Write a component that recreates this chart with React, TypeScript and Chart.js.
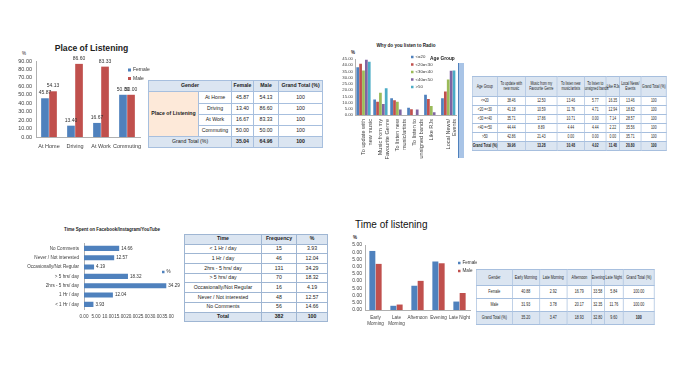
import React, { useEffect, useRef } from 'react';
import { Chart, registerables } from 'chart.js';

Chart.register(...registerables);

const FONT = '"Liberation Sans", Arial, sans-serif';
Chart.defaults.font.family = FONT;
Chart.defaults.color = '#404040';

const BLUE = '#4f81bd';
const RED = '#c0504d';
const GREEN = '#9bbb59';
const PURPLE = '#8064a2';
const CYAN = '#4bacc6';
const HEAD = '#dbe5f1';
const PEACH = '#fde9d9';

// ---------- Place of Listening ----------
const placeCategories = ['At Home', 'Driving', 'At Work', 'Commuting'];
const placeFemale = [45.87, 13.4, 16.67, 50.0];
const placeMale = [54.13, 86.6, 83.33, 50.0];
const placeGrandTotal = [35.04, 64.96, 100];

// ---------- Why do you listen to Radio ----------
const radioCategories = [
  ['To update with', 'new music'],
  ['Music from my', 'Favourite Genre'],
  ['To listen new', 'music/artists'],
  ['To listen to', 'unsigned bands'],
  ['Like RJs'],
  ['Local News/', 'Events'],
];
const radioHeaders = [
  'To update with\nnew music',
  'Music from my\nFavourite Genre',
  'To listen new\nmusic/artists',
  'To listen to\nunsigned bands',
  'Like RJs',
  'Local News/\nEvents',
];
const ageGroups = ['<=20', '<20=<30', '<30=<40', '<40=<50', '>50'];
const ageGroupRowLabels = ['<=20', '<20 =<30', '<30 =<40', '<40 =<50', '>50'];
const radioLe20 = [38.46, 12.5, 13.46, 5.77, 16.35, 13.46];
const radio20to30 = [41.18, 10.59, 11.76, 4.71, 12.94, 18.82];
const radio30to40 = [35.71, 17.86, 10.71, 0.0, 7.14, 28.57];
const radio40to50 = [44.44, 8.89, 4.44, 4.44, 2.22, 35.56];
const radioGt50 = [42.86, 21.43, 0.0, 0.0, 0.0, 35.71];
const radioGrandTotal = [39.96, 13.28, 10.48, 4.02, 11.48, 20.8];
const radioColors = [BLUE, RED, GREEN, PURPLE, CYAN];

// ---------- Time Spent on Facebook/Instagram/YouTube ----------
const timeLabels = [
  '< 1 Hr / day',
  '1 Hr / day',
  '2hrs - 5 hrs/ day',
  '> 5 hrs/ day',
  'Occasionally/Not Regular',
  'Never / Not interested',
  'No Comments',
];
const timeFrequency = [15, 46, 131, 70, 16, 48, 56];
const timePercent = [3.93, 12.04, 34.29, 18.32, 4.19, 12.57, 14.66];

// ---------- Time of listening ----------
const slotLabels = ['Early Morning', 'Late Morning', 'Afternoon', 'Evening', 'Late Night'];
const slotAxisLabels = [['Early', 'Morning'], ['Late', 'Morning'], ['Afternoon'], ['Evening'], ['Late Night']];
const slotFemale = [40.88, 2.92, 16.79, 33.58, 5.84];
const slotMale = [31.93, 3.78, 20.17, 32.35, 11.76];
const slotGrandTotal = [35.2, 3.47, 18.93, 32.8, 9.6];

const fmt = (v: number) => v.toFixed(2);

// ---------- plugins ----------
const valueLabels = {
  id: 'valueLabels',
  afterDatasetsDraw(chart: any, _a: any, opts: any) {
    if (!opts || !opts.display) return;
    const ctx = chart.ctx;
    ctx.save();
    ctx.font = `${opts.size}px ${FONT}`;
    ctx.fillStyle = opts.color || '#333';
    chart.data.datasets.forEach((ds: any, di: number) => {
      const meta = chart.getDatasetMeta(di);
      meta.data.forEach((el: any, i: number) => {
        const txt = fmt(ds.data[i]);
        if (opts.horizontal) {
          ctx.textAlign = 'left';
          ctx.textBaseline = 'middle';
          ctx.fillText(txt, el.x + opts.offset, el.y);
        } else {
          ctx.textAlign = 'center';
          ctx.textBaseline = 'bottom';
          ctx.fillText(txt, el.x, el.y - opts.offset);
        }
      });
    });
    ctx.restore();
  },
};

const miniLegend = {
  id: 'miniLegend',
  afterDraw(chart: any, _a: any, opts: any) {
    if (!opts || !opts.display) return;
    const ctx = chart.ctx;
    ctx.save();
    ctx.font = `${opts.size}px ${FONT}`;
    ctx.textBaseline = 'middle';
    ctx.textAlign = 'left';
    chart.data.datasets.forEach((ds: any, i: number) => {
      const y = opts.y + i * opts.dy;
      ctx.fillStyle = ds.backgroundColor;
      ctx.fillRect(opts.x, y - opts.box / 2, opts.box, opts.box);
      ctx.fillStyle = '#333';
      ctx.fillText(ds.label, opts.x + opts.box + opts.gap, y);
    });
    ctx.restore();
  },
};

function ChartBox({ left, top, width, height, config }: any) {
  const ref = useRef<HTMLCanvasElement>(null);
  useEffect(() => {
    const chart = new Chart(ref.current as HTMLCanvasElement, config);
    return () => chart.destroy();
  }, []);
  return (
    <canvas
      ref={ref}
      width={width}
      height={height}
      style={{ position: 'absolute', left, top, width, height }}
    />
  );
}

const axisBorder = { display: true, color: '#b0b0b0', width: 1 };
const noGrid = { display: false, drawTicks: false, tickLength: 0 };

function yLinear(max: number, step: number, size: number, width: number, pad: number) {
  return {
    min: 0,
    max,
    grid: noGrid,
    border: axisBorder,
    ticks: {
      stepSize: step,
      autoSkip: false,
      font: { size },
      padding: pad,
      callback: (v: any) => Number(v).toFixed(2),
    },
    afterFit: (s: any) => {
      s.width = width;
    },
  };
}

// Chart 1
const placeConfig: any = {
  type: 'bar',
  data: {
    labels: placeCategories,
    datasets: [
      { label: 'Female', data: placeFemale, backgroundColor: BLUE, categoryPercentage: 0.62, barPercentage: 0.95 },
      { label: 'Male', data: placeMale, backgroundColor: RED, categoryPercentage: 0.62, barPercentage: 0.95 },
    ],
  },
  options: {
    responsive: false,
    animation: false,
    layout: { padding: { top: 9, right: 10, left: 0, bottom: 0 } },
    scales: {
      x: {
        grid: noGrid,
        border: axisBorder,
        ticks: { font: { size: 5.5 }, padding: 6, autoSkip: false, maxRotation: 0 },
        afterFit: (s: any) => {
          s.height = 19;
        },
      },
      y: yLinear(90, 10, 5.5, 36, 4),
    },
    plugins: {
      legend: { display: false },
      tooltip: { enabled: false },
      valueLabels: { display: true, size: 5, offset: 3 },
      miniLegend: { display: true, x: 128, y: 18, dy: 8.5, box: 3, gap: 2, size: 5 },
    },
  },
  plugins: [valueLabels, miniLegend],
};

// Chart 2
const radioSeries = [radioLe20, radio20to30, radio30to40, radio40to50, radioGt50];
const radioConfig: any = {
  type: 'bar',
  data: {
    labels: radioCategories,
    datasets: ageGroups.map((g, i) => ({
      label: g,
      data: radioSeries[i],
      backgroundColor: radioColors[i],
      categoryPercentage: 0.85,
      barPercentage: 0.95,
    })),
  },
  options: {
    responsive: false,
    animation: false,
    layout: { padding: { top: 9, right: 4, left: 0, bottom: 0 } },
    scales: {
      x: {
        grid: noGrid,
        border: axisBorder,
        ticks: { font: { size: 5.6 }, padding: 4, autoSkip: false, minRotation: 90, maxRotation: 90 },
        afterFit: (s: any) => {
          s.height = 62;
        },
      },
      y: yLinear(45, 5, 4.3, 19, 2),
    },
    plugins: {
      legend: { display: false },
      tooltip: { enabled: false },
      miniLegend: { display: true, x: 75, y: 7, dy: 7.5, box: 2.5, gap: 2, size: 4.3 },
    },
  },
  plugins: [miniLegend],
};

// Chart 3
const timeConfig: any = {
  type: 'bar',
  data: {
    labels: timeLabels,
    datasets: [
      { label: '%', data: timePercent, backgroundColor: BLUE, categoryPercentage: 1, barPercentage: 0.55 },
    ],
  },
  options: {
    indexAxis: 'y',
    responsive: false,
    animation: false,
    layout: { padding: { top: 3, right: 22, left: 0, bottom: 0 } },
    scales: {
      y: {
        reverse: true,
        grid: noGrid,
        border: axisBorder,
        ticks: { font: { size: 4.6 }, padding: 5, autoSkip: false },
        afterFit: (s: any) => {
          s.width = 84;
        },
      },
      x: {
        min: 0,
        max: 35,
        grid: noGrid,
        border: { display: false },
        ticks: {
          stepSize: 5,
          autoSkip: false,
          font: { size: 4.6 },
          padding: 5,
          maxRotation: 0,
          callback: (v: any) => Number(v).toFixed(2),
        },
        afterFit: (s: any) => {
          s.height = 15;
        },
      },
    },
    plugins: {
      legend: { display: false },
      tooltip: { enabled: false },
      valueLabels: { display: true, size: 4.6, offset: 2, horizontal: true },
      miniLegend: { display: true, x: 162, y: 36, dy: 8, box: 2.5, gap: 2, size: 4.6 },
    },
  },
  plugins: [valueLabels, miniLegend],
};

// Chart 4
const slotConfig: any = {
  type: 'bar',
  data: {
    labels: slotAxisLabels,
    datasets: [
      { label: 'Female', data: slotFemale, backgroundColor: BLUE, categoryPercentage: 0.6, barPercentage: 0.95 },
      { label: 'Male', data: slotMale, backgroundColor: RED, categoryPercentage: 0.6, barPercentage: 0.95 },
    ],
  },
  options: {
    responsive: false,
    animation: false,
    layout: { padding: { top: 9, right: 7, left: 0, bottom: 0 } },
    scales: {
      x: {
        grid: noGrid,
        border: axisBorder,
        ticks: { font: { size: 4.6 }, padding: 5, autoSkip: false, maxRotation: 0 },
        afterFit: (s: any) => {
          s.height = 26;
        },
      },
      y: yLinear(45, 5, 5, 13, 3),
    },
    plugins: {
      legend: { display: false },
      tooltip: { enabled: false },
      miniLegend: { display: true, x: 106, y: 27, dy: 8, box: 2.5, gap: 2, size: 4.6 },
    },
  },
  plugins: [miniLegend],
};

// ---------- html helpers ----------
function Label({ x, y, text, size, bold, family, anchor = 'middle', color = '#222' }: any) {
  return (
    <div
      style={{
        position: 'absolute',
        left: x,
        top: y,
        transform: anchor === 'middle' ? 'translate(-50%, -50%)' : 'translate(0, -50%)',
        fontSize: size,
        fontWeight: bold ? 700 : 400,
        fontFamily: family || FONT,
        whiteSpace: 'nowrap',
        lineHeight: 1,
        color,
      }}
    >
      {text}
    </div>
  );
}

type Cell = { t: string; cs?: number; rs?: number; bold?: boolean; bg?: string };

function Table({ left, top, widths, heights, rows, size, border, outer, sx = 1 }: any) {
  const w2 = widths.map((w: number) => w / sx);
  const total = w2.reduce((a: number, b: number) => a + b, 0);
  return (
    <table
      style={{
        position: 'absolute',
        left,
        top,
        width: total,
        borderCollapse: 'collapse',
        tableLayout: 'fixed',
        fontFamily: FONT,
        fontSize: size,
        color: '#222',
        border: `1px solid ${outer}`,
        background: '#fff',
        transform: `scaleX(${sx})`,
        transformOrigin: 'left top',
      }}
    >
      <colgroup>
        {w2.map((w: number, i: number) => (
          <col key={i} style={{ width: w }} />
        ))}
      </colgroup>
      <tbody>
        {rows.map((r: Cell[], ri: number) => (
          <tr key={ri} style={{ height: heights[ri] }}>
            {r.map((c: Cell, ci: number) => (
              <td
                key={ci}
                colSpan={c.cs}
                rowSpan={c.rs}
                style={{
                  border: `1px solid ${border}`,
                  padding: 0,
                  textAlign: 'center',
                  verticalAlign: 'middle',
                  lineHeight: 1.1,
                  fontWeight: c.bold ? 700 : 400,
                  background: c.bg,
                  whiteSpace: 'pre',
                  overflow: 'visible',
                }}
              >
                {c.t}
              </td>
            ))}
          </tr>
        ))}
      </tbody>
    </table>
  );
}

// table rows
const placeRows: Cell[][] = [
  [
    { t: 'Gender', cs: 2, bold: true, bg: HEAD },
    { t: 'Female', bold: true, bg: HEAD },
    { t: 'Male', bold: true, bg: HEAD },
    { t: 'Grand Total (%)', bold: true, bg: HEAD },
  ],
  ...placeCategories.map((c, i) => [
    ...(i === 0 ? [{ t: 'Place of Listening', rs: placeCategories.length, bold: true, bg: PEACH }] : []),
    { t: c },
    { t: fmt(placeFemale[i]) },
    { t: fmt(placeMale[i]) },
    { t: '100' },
  ]),
  [
    { t: 'Grand Total (%)', cs: 2, bg: HEAD },
    { t: fmt(placeGrandTotal[0]), bold: true, bg: HEAD },
    { t: fmt(placeGrandTotal[1]), bold: true, bg: HEAD },
    { t: String(placeGrandTotal[2]), bold: true, bg: HEAD },
  ],
];

const radioRows: Cell[][] = [
  [{ t: 'Age Group', bg: HEAD }, ...radioHeaders.map((h) => ({ t: h, bg: HEAD })), { t: 'Grand Total (%)', bg: HEAD }],
  ...ageGroupRowLabels.map((g, i) => [{ t: g }, ...radioSeries[i].map((v) => ({ t: fmt(v) })), { t: '100' }]),
  [
    { t: 'Grand Total (%)', bold: true, bg: HEAD },
    ...radioGrandTotal.map((v) => ({ t: fmt(v), bold: true, bg: HEAD })),
    { t: '100', bold: true, bg: HEAD },
  ],
];

const timeRows: Cell[][] = [
  [
    { t: 'Time', bold: true, bg: HEAD },
    { t: 'Frequency', bold: true, bg: HEAD },
    { t: '%', bold: true, bg: HEAD },
  ],
  ...timeLabels.map((l, i) => [{ t: l }, { t: String(timeFrequency[i]) }, { t: fmt(timePercent[i]) }]),
  [
    { t: 'Total', bold: true, bg: HEAD },
    { t: String(timeFrequency.reduce((a, b) => a + b, 0)), bold: true, bg: HEAD },
    { t: '100', bold: true, bg: HEAD },
  ],
];

const slotRows: Cell[][] = [
  [{ t: 'Gender', bg: HEAD }, ...slotLabels.map((s) => ({ t: s, bg: HEAD })), { t: 'Grand Total (%)', bg: HEAD }],
  [{ t: 'Female' }, ...slotFemale.map((v) => ({ t: fmt(v) })), { t: '100.00' }],
  [{ t: 'Male' }, ...slotMale.map((v) => ({ t: fmt(v) })), { t: '100.00' }],
  [
    { t: 'Grand Total (%)', bg: HEAD },
    ...slotGrandTotal.map((v) => ({ t: fmt(v), bg: HEAD })),
    { t: '100', bold: true, bg: HEAD },
  ],
];

export default function App() {
  return (
    <div
      style={{
        position: 'fixed',
        left: 0,
        top: 0,
        width: 689,
        height: 392,
        background: '#fff',
        overflow: 'hidden',
        fontFamily: FONT,
      }}
    >
      {/* Place of Listening */}
      <Label x={91.5} y={48} text="Place of Listening" size={8.6} bold />
      <Label x={24} y={53.5} text="%" size={4.5} />
      <ChartBox left={0} top={52} width={150} height={104} config={placeConfig} />
      <Table
        left={148}
        top={80}
        widths={[50, 33, 22, 25, 44]}
        heights={[11, 12, 11, 11, 11, 11]}
        rows={placeRows}
        size={5.2}
        border="#a7bfde"
        outer="#7f9fc8"
      />

      {/* Why do you listen to Radio */}
      <Label x={406} y={46} text="Why do you listen to Radio" size={4.6} bold />
      <Label x={353} y={53} text="%" size={4.5} bold />
      <ChartBox left={336} top={50} width={130} height={127} config={radioConfig} />
      <Label x={430} y={59} text="Age Group" size={4.8} bold anchor="start" />
      <div
        style={{
          position: 'absolute',
          left: 458,
          top: 63,
          width: 5,
          height: 95,
          background: '#a9c4e6',
          borderLeft: '1px solid #4f81bd',
        }}
      />
      <Table
        left={472}
        top={76}
        widths={[25, 28, 32, 27, 22, 13, 22, 25]}
        heights={[19.5, 9, 9, 9, 9, 9, 9]}
        rows={radioRows}
        size={4.8}
        sx={0.7}
        border="#a7bfde"
        outer="#7f9fc8"
      />

      {/* Time Spent on Facebook/Instagram/YouTube */}
      <Label x={112} y={230} text="Time Spent on Facebook/Instagram/YouTube" size={4.5} bold />
      <ChartBox left={0} top={236} width={190} height={88} config={timeConfig} />
      <Table
        left={184}
        top={234}
        widths={[77, 35, 31]}
        heights={[9.7, 9.7, 9.7, 9.7, 9.7, 9.7, 9.7, 9.7, 9.7]}
        rows={timeRows}
        size={5.2}
        border="#9fb6d3"
        outer="#7f9fc8"
      />

      {/* Time of listening */}
      <Label x={355} y={225} text="Time of listening" size={10} anchor="start" color="#111" />
      <Label x={355} y={238} text="%" size={4.5} bold />
      <ChartBox left={352} top={236} width={125} height={100} config={slotConfig} />
      <Table
        left={476}
        top={269}
        widths={[36, 27, 28, 24, 13, 19, 31]}
        heights={[16, 13, 13, 13]}
        rows={slotRows}
        size={5}
        sx={0.72}
        border="#a7bfde"
        outer="#7f9fc8"
      />
    </div>
  );
}
